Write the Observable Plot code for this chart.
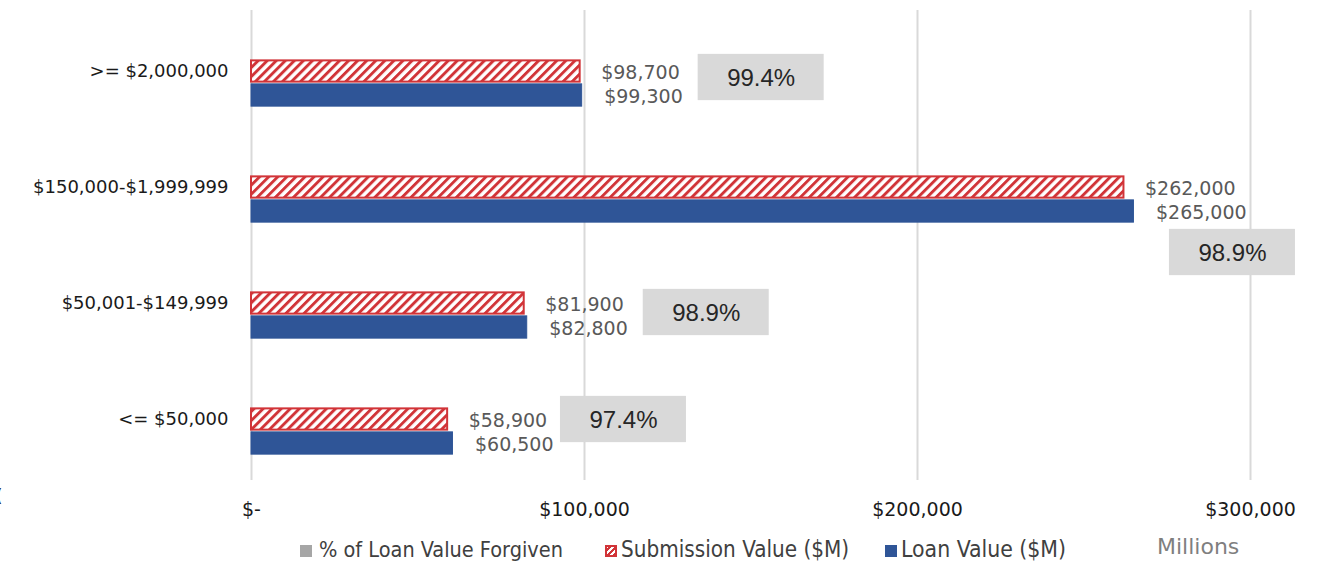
<!DOCTYPE html>
<html>
<head>
<meta charset="utf-8">
<script src="https://cdn.jsdelivr.net/npm/d3@7"></script>
<script src="https://cdn.jsdelivr.net/npm/@observablehq/plot@0.6"></script>
<style>
  html, body { margin: 0; padding: 0; background: #fff; }
  #wrap { position: relative; width: 1325px; height: 562px; overflow: hidden; }
  .leg { position: absolute; top: 537px; font-family: "DejaVu Sans Condensed", "DejaVu Sans", sans-serif; font-stretch: condensed; font-size: 21.5px; color: #404040; white-space: nowrap; }
  .sw { position: absolute; top: 545px; width: 12px; height: 12px; box-sizing: border-box; }
</style>
</head>
<body>
<div id="wrap"></div>
<script>
// ---- data ----
const categories = [">= $2,000,000", "$150,000-$1,999,999", "$50,001-$149,999", "<= $50,000"];
const submissionValue = [98700, 262000, 81900, 58900];
const loanValue = [99300, 265000, 82800, 60500];
const pctForgiven = [99.4, 98.9, 98.9, 97.4];
const xTicks = [0, 100000, 200000, 300000];
const legendLabels = ["% of Loan Value Forgiven", "Submission Value ($M)", "Loan Value ($M)"];
const unitLabel = "Millions";

// ---- layout (pixels) ----
const W = 1325, H = 530, mt = 11, mb = 52, ml = 251, mr = 75;
const step = (H - mt - mb) / categories.length;
const barH = 24;
const boxW = 126, boxH = 47;
// percent box placement relative to loan bar end / band centre
const boxPlace = [
  {dx: 179, dy: 6},
  {dx: 98.5, dy: 65},
  {dx: 179, dy: 9},
  {dx: 170.5, dy: 0}
];

const rows = categories.map((c, i) => ({
  cat: c, sub: submissionValue[i], loan: loanValue[i], pct: pctForgiven[i], i
}));

const fmt = d3.format(",");
const money = v => "$" + fmt(v);
const labelFont = "DejaVu Sans, sans-serif";

const boxMarks = rows.flatMap((r, i) => {
  const p = boxPlace[i];
  return [
    Plot.barX([r], {
      x1: "loan", x2: "loan", y: "cat", fill: "#d9d9d9",
      insetLeft: p.dx - boxW / 2, insetRight: -(p.dx + boxW / 2),
      insetTop: step / 2 + p.dy - boxH / 2, insetBottom: step / 2 - p.dy - boxH / 2
    }),
    Plot.text([r], {
      x: "loan", y: "cat", text: d => d.pct.toFixed(1) + "%",
      dx: p.dx, dy: p.dy + 1, fill: "#262626",
      fontSize: 24, fontFamily: "Liberation Sans, Arial, sans-serif"
    })
  ];
});

const chart = Plot.plot({
  width: W, height: H,
  marginTop: mt, marginBottom: mb, marginLeft: ml, marginRight: mr,
  style: { fontFamily: labelFont, background: "#fff" },
  x: { domain: [0, 300000], ticks: xTicks, tickSize: 0, tickPadding: 24,
       tickFormat: d => d === 0 ? "$-" : money(d), label: null },
  y: { domain: categories, padding: 0, tickSize: 0, tickPadding: 23, label: null },
  marks: [
    Plot.ruleX(xTicks, { x: d => d, stroke: "#d9d9d9", strokeWidth: 2, insetTop: -1, insetBottom: -2 }),
    Plot.barX(rows, {
      x: "sub", y: "cat", fill: "white", stroke: "#d13438", strokeWidth: 2,
      insetTop: step / 2 - barH / 2 + 1, insetBottom: step / 2 - barH / 2 + 1
    }),
    Plot.barX(rows, {
      x: "loan", y: "cat", fill: "#2f5597", stroke: "#2f5597", strokeWidth: 1,
      insetTop: step / 2 + barH / 2 + 0.5, insetBottom: step / 2 - 1.5 * barH + 0.5
    }),
    Plot.text(rows, {
      x: "sub", y: "cat", text: d => money(d.sub), textAnchor: "start",
      dx: 21, dy: 1, fill: "#595959", fontSize: 19, fontFamily: labelFont
    }),
    Plot.text(rows, {
      x: "loan", y: "cat", text: d => money(d.loan), textAnchor: "start",
      dx: 22, dy: 25, fill: "#595959", fontSize: 19, fontFamily: labelFont
    }),
    ...boxMarks
  ]
});

// hatch pattern for submission bars
const svgNS = "http://www.w3.org/2000/svg";
const defs = document.createElementNS(svgNS, "defs");
const pat = document.createElementNS(svgNS, "pattern");
const P = 6.4;
pat.setAttribute("id", "hatch");
pat.setAttribute("patternUnits", "userSpaceOnUse");
pat.setAttribute("width", P);
pat.setAttribute("height", P);
pat.setAttribute("patternTransform", "rotate(45)");
const bg = document.createElementNS(svgNS, "rect");
bg.setAttribute("width", P); bg.setAttribute("height", P); bg.setAttribute("fill", "#ffffff");
const stripe = document.createElementNS(svgNS, "rect");
stripe.setAttribute("width", "2.9"); stripe.setAttribute("height", P); stripe.setAttribute("fill", "#d13438");
pat.appendChild(bg); pat.appendChild(stripe); defs.appendChild(pat);
chart.insertBefore(defs, chart.firstChild);
chart.querySelectorAll('g[stroke="#d13438"]').forEach(g => {
  g.setAttribute("fill", "url(#hatch)");
  g.querySelectorAll("rect").forEach(r => r.setAttribute("fill", "url(#hatch)"));
});

// axis text styling
chart.querySelectorAll('g[aria-label="y-axis tick label"]').forEach(t => {
  t.setAttribute("font-size", 18); t.setAttribute("fill", "#1a1a1a");
});
chart.querySelectorAll('g[aria-label="x-axis tick label"]').forEach(t => {
  t.setAttribute("font-size", 19); t.setAttribute("fill", "#1a1a1a");
});

const wrap = document.getElementById("wrap");
chart.style.position = "absolute"; chart.style.left = "0"; chart.style.top = "0";
wrap.appendChild(chart);

// legend + cut-off artifact at left edge
const extra = [
  `<div class="sw" style="left:300px;background:#a6a6a6"></div>`,
  `<div class="leg" style="left:319px">${legendLabels[0]}</div>`,
  `<div class="sw" style="left:605px;border:2px solid #d13438;background:repeating-linear-gradient(-45deg,#d13438 0 2px,#fff 2px 4px)"></div>`,
  `<div class="leg" style="left:621px;font-size:22.3px;top:536px">${legendLabels[1]}</div>`,
  `<div class="sw" style="left:885px;background:#2f5597"></div>`,
  `<div class="leg" style="left:901px;font-size:22.8px;top:536px">${legendLabels[2]}</div>`,
  `<div class="leg" style="left:1157px;top:534px;font-family:'DejaVu Sans',sans-serif;font-stretch:normal;font-size:22px;color:#7f7f7f">${unitLabel}</div>`,
  `<div class="leg" style="left:-4px;top:485px;font-size:18px;color:#1a1a1a">(</div>`
];
wrap.insertAdjacentHTML("beforeend", extra.join(""));
</script>
</body>
</html>
